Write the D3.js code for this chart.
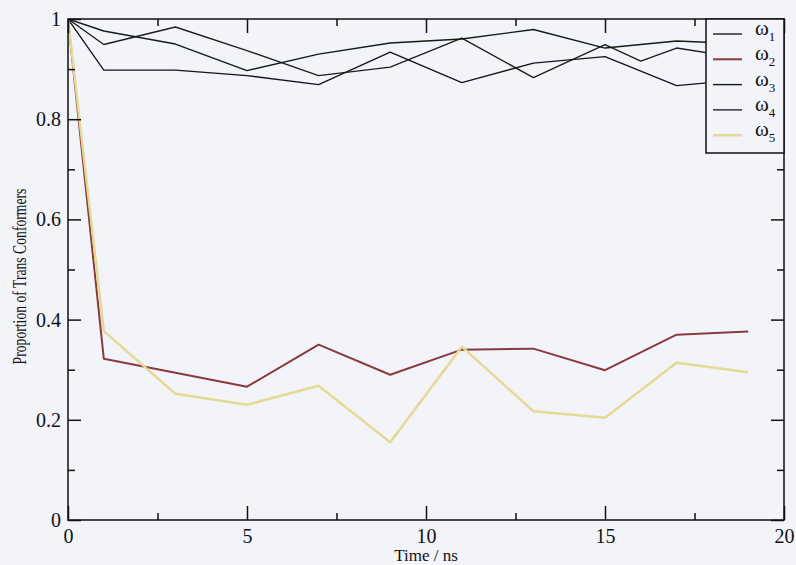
<!DOCTYPE html>
<html>
<head>
<meta charset="utf-8">
<script src="https://cdn.jsdelivr.net/npm/d3@7"></script>
<style>
  body { margin: 0; background: #f3f3fa; }
  svg text { font-family: "Liberation Serif", "Times New Roman", serif; fill: #111; }
</style>
</head>
<body>
<div id="chart"></div>
<script>
const width = 796, height = 565;
const margin = { top: 19, right: 12, bottom: 45, left: 68 };
const serif = '"Liberation Serif", "Times New Roman", serif';

// time points (ns); one trace has an extra point at 16 ns
const times = [0, 1, 3, 5, 7, 9, 11, 13, 15, 16, 17, 19];
const omega1 = [1, 0.949, 0.984, 0.937, 0.887, 0.904, 0.962, 0.883, 0.949, 0.916, 0.942, 0.920];
const omega2 = [1, 0.322, 0.294, 0.266, 0.350, 0.290, 0.340, 0.342, 0.299, null, 0.370, 0.376];
const omega3 = [1, 0.976, 0.950, 0.897, 0.930, 0.952, 0.960, 0.979, 0.942, null, 0.956, 0.950];
const omega4 = [1, 0.898, 0.898, 0.887, 0.869, 0.934, 0.873, 0.912, 0.925, null, 0.867, 0.880];
const omega5 = [1, 0.377, 0.252, 0.230, 0.268, 0.155, 0.346, 0.217, 0.204, null, 0.314, 0.295];

const seriesNames = ['1', '2', '3', '4', '5'];
const seriesColors = ['#1e1e1e', '#8a3a3d', '#141c14', '#14141e', '#e4da94'];
const seriesWidths = [1.4, 2, 1.4, 1.3, 2.5];

const xMajor = [0, 5, 10, 15, 20];
const xMinor = [2.5, 7.5, 12.5, 17.5];
const yMajor = [0, 0.2, 0.4, 0.6, 0.8, 1];
const yMinor = [0.1, 0.3, 0.5, 0.7, 0.9];

const innerW = width - margin.left - margin.right;
const innerH = height - margin.top - margin.bottom;

const xScale = d3.scaleLinear().domain([0, 20]).range([0, innerW]);
const yScale = d3.scaleLinear().domain([0, 1]).range([innerH, 0]);

const svg = d3.select('#chart').append('svg')
    .attr('width', width)
    .attr('height', height)
    .attr('font-family', serif);

const g = svg.append('g')
    .attr('transform', 'translate(' + margin.left + ',' + margin.top + ')');

g.append('clipPath').attr('id', 'plotclip')
  .append('rect').attr('width', innerW).attr('height', innerH);

// data lines
const allSeries = [omega1, omega2, omega3, omega4, omega5];
const line = d3.line().x(d => xScale(d[0])).y(d => yScale(d[1]));
const drawOrder = [0, 2, 3, 1, 4];
drawOrder.forEach(i => {
    const pts = times.map((t, j) => [t, allSeries[i][j]]).filter(d => d[1] != null);
    g.append('path')
        .datum(pts)
        .attr('clip-path', 'url(#plotclip)')
        .attr('fill', 'none')
        .attr('stroke', seriesColors[i])
        .attr('stroke-width', seriesWidths[i])
        .attr('stroke-linejoin', 'round')
        .attr('d', line);
});

// axes: ticks on all four sides, pointing inwards
function styleAxis(sel) {
    sel.attr('font-family', serif);
    sel.select('.domain').remove();
    sel.selectAll('.tick line').attr('stroke', '#111').attr('stroke-width', 1.5);
    sel.selectAll('text')
        .style('font-family', serif)
        .attr('font-size', 20)
        .attr('fill', '#111');
}
function noLabels() { return ''; }

g.append('g').attr('transform', 'translate(0,' + innerH + ')')
    .call(d3.axisBottom(xScale).tickValues(xMajor).tickSize(-14).tickPadding(9).tickFormat(d3.format('d')))
    .call(styleAxis);
g.append('g').attr('transform', 'translate(0,' + innerH + ')')
    .call(d3.axisBottom(xScale).tickValues(xMinor).tickSize(-7).tickFormat(noLabels))
    .call(styleAxis);
g.append('g')
    .call(d3.axisTop(xScale).tickValues(xMajor).tickSize(-14).tickFormat(noLabels))
    .call(styleAxis);
g.append('g')
    .call(d3.axisTop(xScale).tickValues(xMinor).tickSize(-7).tickFormat(noLabels))
    .call(styleAxis);

g.append('g')
    .call(d3.axisLeft(yScale).tickValues(yMajor).tickSize(-13).tickPadding(7).tickFormat(d3.format('~g')))
    .call(styleAxis);
g.append('g')
    .call(d3.axisLeft(yScale).tickValues(yMinor).tickSize(-7).tickFormat(noLabels))
    .call(styleAxis);
g.append('g').attr('transform', 'translate(' + innerW + ',0)')
    .call(d3.axisRight(yScale).tickValues(yMajor).tickSize(-13).tickFormat(noLabels))
    .call(styleAxis);
g.append('g').attr('transform', 'translate(' + innerW + ',0)')
    .call(d3.axisRight(yScale).tickValues(yMinor).tickSize(-7).tickFormat(noLabels))
    .call(styleAxis);

// frame
g.append('rect')
    .attr('width', innerW).attr('height', innerH)
    .attr('fill', 'none').attr('stroke', '#111').attr('stroke-width', 1.5);

// axis titles
svg.append('text')
    .attr('x', margin.left + innerW / 2)
    .attr('y', height - 4)
    .attr('text-anchor', 'middle')
    .attr('font-size', 17)
    .text('Time / ns');

svg.append('text')
    .attr('transform', 'translate(26,' + (margin.top + innerH / 2 + 7) + ') rotate(-90) scale(0.72,1)')
    .attr('text-anchor', 'middle')
    .attr('font-size', 19)
    .text('Proportion of Trans Conformers');

// legend
const legX = innerW - 78, legW = 78, legH = 134;
const leg = g.append('g').attr('transform', 'translate(' + legX + ',0)');
leg.append('rect')
    .attr('width', legW).attr('height', legH)
    .attr('fill', '#f3f3fa').attr('stroke', '#111').attr('stroke-width', 1.5);
seriesNames.forEach((name, i) => {
    const y = 15 + i * 25.3;
    leg.append('line')
        .attr('x1', 7).attr('x2', 36).attr('y1', y).attr('y2', y)
        .attr('stroke', seriesColors[i]).attr('stroke-width', seriesWidths[i]);
    const t = leg.append('text').attr('x', 49).attr('y', y + 1).attr('font-size', 21);
    t.append('tspan').text('ω');
    t.append('tspan').attr('dy', 6).attr('font-size', 13).text(name);
});
</script>
</body>
</html>
